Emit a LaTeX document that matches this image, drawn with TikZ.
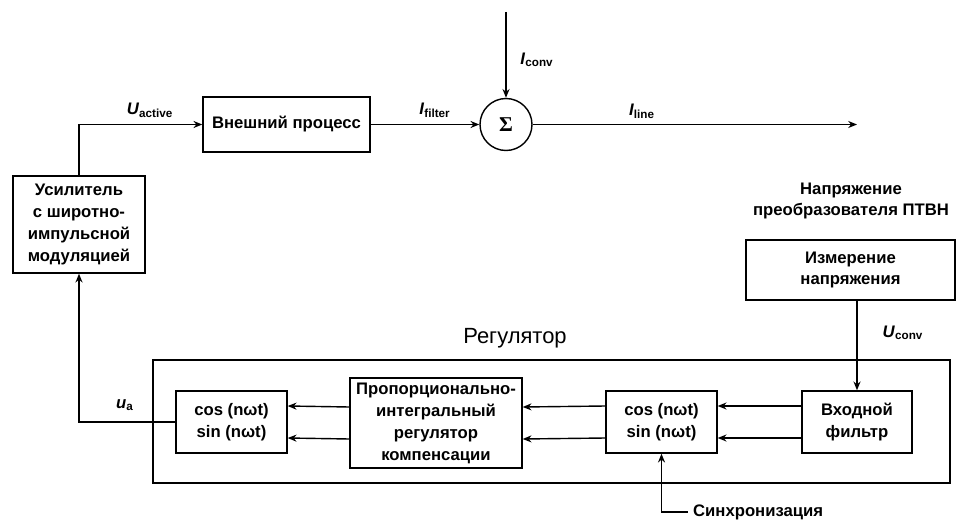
\documentclass[tikz,border=0pt]{standalone}
\usepackage{fontspec}
\setmainfont{Liberation Sans}
\newfontfamily\sigmafont{Liberation Serif}
\usetikzlibrary{arrows.meta,positioning}

\tikzset{
    block/.style={draw, thick, align=center, font=\blocktext, inner sep=2pt},
    arr/.style={-{Stealth[length=5pt,width=4pt]}, thick},
    lbl/.style={font=\blocktext, inner sep=1pt}
}
\newcommand{\blocktext}{\fontsize{9.5}{12.5}\selectfont\bfseries}
\newcommand{\sig}[2]{\textit{#1}\textsubscript{#2}}

\begin{document}
\begin{tikzpicture}
    \useasboundingbox (0,0) rectangle (19.22,10.44);

    % upper path
    \node[block, minimum width=3.34cm, minimum height=1.1cm] (proc) at (5.73, 7.95) {Внешний процесс};
    \node[draw, thick, circle, minimum size=1.04cm, inner sep=0pt] (sum) at (10.12, 7.95) {\sigmafont\bfseries\large Σ};
    \node[block, minimum width=2.64cm, minimum height=1.94cm] (amp) at (1.58, 5.95)
        {Усилитель\\с широтно-\\импульсной\\модуляцией};
    \coordinate (convin) at (10.12, 10.2);
    \coordinate (lineout) at (17.14, 7.95);

    \draw[arr] (amp.north) |- (proc.west);
    \draw[arr] (proc.east) -- (sum.west);
    \draw[arr] (convin) -- (sum.north);
    \draw[arr] (sum.east) -- (lineout);

    \node[lbl] (uact) at (3.0, 8.24) {\sig{U}{active}};
    \node[lbl] (ifilt) at (8.7, 8.24) {\sig{I}{filter}};
    \node[lbl] (iconv) at (10.74, 9.24) {\sig{I}{conv}};
    \node[lbl] (iline) at (12.84, 8.22) {\sig{I}{line}};

    % measurement
    \node[lbl, align=center] (measttl) at (17.02, 6.42) {Напряжение\\преобразователя ПТВН};
    \node[block, minimum width=4.18cm, minimum height=1.2cm] (meas) at (17.01, 5.04)
        {Измерение\\напряжения};

    % regulator
    \node[draw, thick, minimum width=15.94cm, minimum height=2.46cm] (reg) at (11.03, 2.01) {};
    \node[font=\fontsize{12.5}{14}\selectfont] (regttl) at (10.3, 3.68) {Регулятор};

    \node[block, minimum width=2.22cm, minimum height=1.24cm] (cosL) at (4.63, 2.0)
        {cos (nωt)\\sin (nωt)};
    \node[block, minimum width=3.44cm, minimum height=1.8cm] (pi) at (8.72, 1.98)
        {Пропорционально-\\интегральный\\регулятор\\компенсации};
    \node[block, minimum width=2.22cm, minimum height=1.24cm] (cosR) at (13.23, 2.0)
        {cos (nωt)\\sin (nωt)};
    \node[block, minimum width=2.2cm, minimum height=1.24cm] (filt) at (17.14, 2.0)
        {Входной\\фильтр};

    \foreach \dy in {3.2mm, -3.2mm} {
        \draw[arr] ([yshift=\dy]filt.west) -- ([yshift=\dy]cosR.east);
        \draw[arr] ([yshift=\dy]cosR.west) -- ([yshift=\dy]pi.east);
        \draw[arr] ([yshift=\dy]pi.west) -- ([yshift=\dy]cosL.east);
    }

    \draw[arr] (meas.south -| filt.north) -- (filt.north);
    \node[lbl] (uconv) at (18.06, 3.78) {\sig{U}{conv}};

    \draw[arr] (cosL.west) -| (amp.south);
    \node[lbl] (ua) at (2.5, 2.34) {\sig{u}{a}};

    \node[lbl, anchor=west, inner sep=3pt] (sync) at (13.75, 0.2) {Синхронизация};
    \draw[arr] (sync.west) -| (cosR.south);
\end{tikzpicture}
\end{document}
